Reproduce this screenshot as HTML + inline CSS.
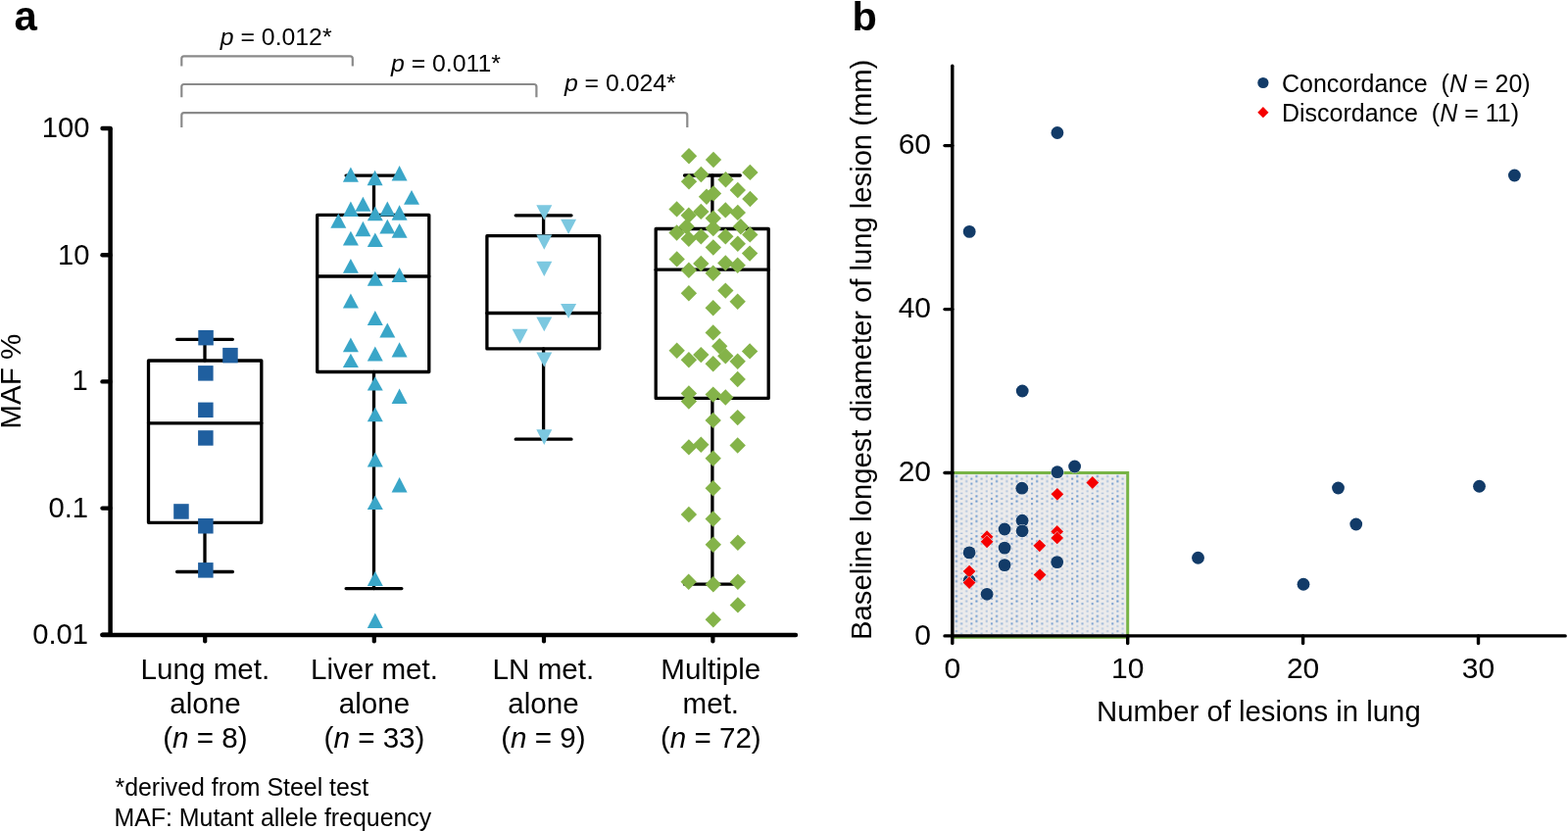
<!DOCTYPE html>
<html><head><meta charset="utf-8"><title>Figure</title>
<style>
html,body{margin:0;padding:0;background:#fff;}
body{width:1600px;height:848px;overflow:hidden;}
svg{display:block;}
</style></head>
<body>
<svg width="1600" height="848" viewBox="0 0 1600 848">
<rect width="1600" height="848" fill="#fff"/>
<path d="M185.3,67.5 L185.3,59.8 Q185.3,57.3 187.8,57.3 L357.3,57.3 Q359.8,57.3 359.8,59.8 L359.8,67.5" fill="none" stroke="#8a8a8a" stroke-width="2.2"/>
<path d="M185.3,99.2 L185.3,88.5 Q185.3,86.0 187.8,86.0 L544.9,86.0 Q547.4,86.0 547.4,88.5 L547.4,99.2" fill="none" stroke="#8a8a8a" stroke-width="2.2"/>
<path d="M185.3,130.0 L185.3,117.7 Q185.3,115.2 187.8,115.2 L698.8,115.2 Q701.3,115.2 701.3,117.7 L701.3,130.0" fill="none" stroke="#8a8a8a" stroke-width="2.2"/>
<text x="224.8" y="46.3" font-size="24.8" font-family="'Liberation Sans', Arial, Helvetica, sans-serif"><tspan font-style="italic">p</tspan> = 0.012*</text>
<text x="399.0" y="72.6" font-size="24.8" font-family="'Liberation Sans', Arial, Helvetica, sans-serif"><tspan font-style="italic">p</tspan> = 0.011*</text>
<text x="575.9" y="92.8" font-size="24.8" font-family="'Liberation Sans', Arial, Helvetica, sans-serif"><tspan font-style="italic">p</tspan> = 0.024*</text>
<path d="M112.6,130.8 L112.6,648.0" stroke="#000" stroke-width="4.5" fill="none"/>
<path d="M104.5,648.0 L812,648.0" stroke="#000" stroke-width="4.4" stroke-linecap="round" fill="none"/>
<path d="M104.5,131.0 L112.6,131.0" stroke="#000" stroke-width="4.4" stroke-linecap="round"/>
<path d="M104.5,260.2 L112.6,260.2" stroke="#000" stroke-width="4.4" stroke-linecap="round"/>
<path d="M104.5,389.4 L112.6,389.4" stroke="#000" stroke-width="4.4" stroke-linecap="round"/>
<path d="M104.5,518.6 L112.6,518.6" stroke="#000" stroke-width="4.4" stroke-linecap="round"/>
<path d="M104.5,647.8 L112.6,647.8" stroke="#000" stroke-width="4.4" stroke-linecap="round"/>
<path d="M209.2,648.0 L209.2,654.5" stroke="#000" stroke-width="4.2" stroke-linecap="round"/>
<path d="M381.8,648.0 L381.8,654.5" stroke="#000" stroke-width="4.2" stroke-linecap="round"/>
<path d="M555.0,648.0 L555.0,654.5" stroke="#000" stroke-width="4.2" stroke-linecap="round"/>
<path d="M727.4,648.0 L727.4,654.5" stroke="#000" stroke-width="4.2" stroke-linecap="round"/>
<text x="91.5" y="140.3" font-size="29.2" text-anchor="end" font-family="'Liberation Sans', Arial, Helvetica, sans-serif">100</text>
<text x="91.5" y="269.5" font-size="29.2" text-anchor="end" font-family="'Liberation Sans', Arial, Helvetica, sans-serif">10</text>
<text x="89.8" y="398.2" font-size="29.2" text-anchor="end" font-family="'Liberation Sans', Arial, Helvetica, sans-serif">1</text>
<text x="90.0" y="527.9" font-size="29.2" text-anchor="end" font-family="'Liberation Sans', Arial, Helvetica, sans-serif">0.1</text>
<text x="90.0" y="657.1" font-size="29.2" text-anchor="end" font-family="'Liberation Sans', Arial, Helvetica, sans-serif">0.01</text>
<text transform="translate(21.2,389.2) rotate(-90)" font-size="29.6" text-anchor="middle" font-family="'Liberation Sans', Arial, Helvetica, sans-serif">MAF %</text>
<text x="209.4" y="693.3" font-size="29.6" text-anchor="middle" font-family="'Liberation Sans', Arial, Helvetica, sans-serif">Lung met.</text>
<text x="209.4" y="727.5" font-size="29.6" text-anchor="middle" font-family="'Liberation Sans', Arial, Helvetica, sans-serif">alone</text>
<text x="209.4" y="762.6" font-size="29.6" text-anchor="middle" font-family="'Liberation Sans', Arial, Helvetica, sans-serif">(<tspan font-style="italic">n</tspan> = 8)</text>
<text x="382.0" y="693.3" font-size="29.6" text-anchor="middle" font-family="'Liberation Sans', Arial, Helvetica, sans-serif">Liver met.</text>
<text x="382.0" y="727.5" font-size="29.6" text-anchor="middle" font-family="'Liberation Sans', Arial, Helvetica, sans-serif">alone</text>
<text x="382.0" y="762.6" font-size="29.6" text-anchor="middle" font-family="'Liberation Sans', Arial, Helvetica, sans-serif">(<tspan font-style="italic">n</tspan> = 33)</text>
<text x="554.4" y="693.3" font-size="29.6" text-anchor="middle" font-family="'Liberation Sans', Arial, Helvetica, sans-serif">LN met.</text>
<text x="554.4" y="727.5" font-size="29.6" text-anchor="middle" font-family="'Liberation Sans', Arial, Helvetica, sans-serif">alone</text>
<text x="554.4" y="762.6" font-size="29.6" text-anchor="middle" font-family="'Liberation Sans', Arial, Helvetica, sans-serif">(<tspan font-style="italic">n</tspan> = 9)</text>
<text x="725.3" y="693.3" font-size="29.6" text-anchor="middle" font-family="'Liberation Sans', Arial, Helvetica, sans-serif">Multiple</text>
<text x="725.3" y="727.5" font-size="29.6" text-anchor="middle" font-family="'Liberation Sans', Arial, Helvetica, sans-serif">met.</text>
<text x="725.3" y="762.6" font-size="29.6" text-anchor="middle" font-family="'Liberation Sans', Arial, Helvetica, sans-serif">(<tspan font-style="italic">n</tspan> = 72)</text>
<text x="117.5" y="812" font-size="24.9" font-family="'Liberation Sans', Arial, Helvetica, sans-serif">*derived from Steel test</text>
<text x="116.5" y="842.7" font-size="24.9" font-family="'Liberation Sans', Arial, Helvetica, sans-serif">MAF: Mutant allele frequency</text>
<path d="M209.0,346.3 L209.0,368.0 M209.0,533.3 L209.0,583.5" stroke="#000" stroke-width="3.3" fill="none" stroke-linecap="round"/>
<path d="M180.6,346.3 L237.4,346.3 M180.6,583.5 L237.4,583.5" stroke="#000" stroke-width="3.3" fill="none" stroke-linecap="round"/>
<rect x="151.5" y="368.0" width="115.30000000000001" height="165.29999999999995" stroke="#000" stroke-width="3.3" fill="none" stroke-linecap="round" stroke-linejoin="round"/>
<path d="M151.5,431.8 L266.8,431.8" stroke="#000" stroke-width="3.3" fill="none" stroke-linecap="round"/>
<rect x="202.3" y="336.9" width="15.5" height="15.5" fill="#1f5f9f"/>
<rect x="227.2" y="354.9" width="15.5" height="15.5" fill="#1f5f9f"/>
<rect x="202.1" y="373.1" width="15.5" height="15.5" fill="#1f5f9f"/>
<rect x="202.1" y="410.6" width="15.5" height="15.5" fill="#1f5f9f"/>
<rect x="202.1" y="439.2" width="15.5" height="15.5" fill="#1f5f9f"/>
<rect x="177.2" y="514.2" width="15.5" height="15.5" fill="#1f5f9f"/>
<rect x="202.1" y="529.0" width="15.5" height="15.5" fill="#1f5f9f"/>
<rect x="202.1" y="574.1" width="15.5" height="15.5" fill="#1f5f9f"/>
<path d="M381.5,179.1 L381.5,219.4 M381.5,379.5 L381.5,600.6" stroke="#000" stroke-width="3.3" fill="none" stroke-linecap="round"/>
<path d="M353.1,179.1 L409.9,179.1 M353.1,600.6 L409.9,600.6" stroke="#000" stroke-width="3.3" fill="none" stroke-linecap="round"/>
<rect x="323.7" y="219.4" width="114.10000000000002" height="160.1" stroke="#000" stroke-width="3.3" fill="none" stroke-linecap="round" stroke-linejoin="round"/>
<path d="M323.7,282.0 L437.8,282.0" stroke="#000" stroke-width="3.3" fill="none" stroke-linecap="round"/>
<path d="M357.9,170.6 L365.9,185.8 L349.9,185.8Z" fill="#3aa6c8"/>
<path d="M382.6,173.8 L390.6,189.2 L374.6,189.2Z" fill="#3aa6c8"/>
<path d="M407.6,169.0 L415.6,184.4 L399.6,184.4Z" fill="#3aa6c8"/>
<path d="M420.0,194.0 L428.0,208.8 L412.0,208.8Z" fill="#3aa6c8"/>
<path d="M370.4,200.8 L378.4,215.7 L362.4,215.7Z" fill="#3aa6c8"/>
<path d="M357.9,205.6 L365.9,221.0 L349.9,221.0Z" fill="#3aa6c8"/>
<path d="M395.3,205.6 L403.3,220.5 L387.3,220.5Z" fill="#3aa6c8"/>
<path d="M407.6,209.3 L415.6,224.7 L399.6,224.7Z" fill="#3aa6c8"/>
<path d="M382.8,210.4 L390.8,225.3 L374.8,225.3Z" fill="#3aa6c8"/>
<path d="M345.3,217.8 L353.3,232.7 L337.3,232.7Z" fill="#3aa6c8"/>
<path d="M370.4,225.8 L378.4,241.2 L362.4,241.2Z" fill="#3aa6c8"/>
<path d="M395.3,223.7 L403.3,238.5 L387.3,238.5Z" fill="#3aa6c8"/>
<path d="M407.6,227.9 L415.6,242.8 L399.6,242.8Z" fill="#3aa6c8"/>
<path d="M357.9,235.8 L365.9,250.4 L349.9,250.4Z" fill="#3aa6c8"/>
<path d="M382.8,237.4 L390.8,252.1 L374.8,252.1Z" fill="#3aa6c8"/>
<path d="M357.9,264.0 L365.9,278.8 L349.9,278.8Z" fill="#3aa6c8"/>
<path d="M382.8,276.7 L390.8,291.8 L374.8,291.8Z" fill="#3aa6c8"/>
<path d="M407.6,273.0 L415.6,288.1 L399.6,288.1Z" fill="#3aa6c8"/>
<path d="M357.9,299.5 L365.9,314.4 L349.9,314.4Z" fill="#3aa6c8"/>
<path d="M382.8,316.9 L390.8,332.1 L374.8,332.1Z" fill="#3aa6c8"/>
<path d="M395.3,329.6 L403.3,344.5 L387.3,344.5Z" fill="#3aa6c8"/>
<path d="M357.9,344.5 L365.9,359.3 L349.9,359.3Z" fill="#3aa6c8"/>
<path d="M357.9,360.7 L365.9,374.9 L349.9,374.9Z" fill="#3aa6c8"/>
<path d="M382.8,353.5 L390.8,368.4 L374.8,368.4Z" fill="#3aa6c8"/>
<path d="M407.6,349.3 L415.6,364.6 L399.6,364.6Z" fill="#3aa6c8"/>
<path d="M382.8,384.3 L390.8,398.6 L374.8,398.6Z" fill="#3aa6c8"/>
<path d="M407.6,396.4 L415.6,412.1 L399.6,412.1Z" fill="#3aa6c8"/>
<path d="M382.8,415.5 L390.8,430.3 L374.8,430.3Z" fill="#3aa6c8"/>
<path d="M382.8,461.6 L390.8,476.5 L374.8,476.5Z" fill="#3aa6c8"/>
<path d="M407.6,487.0 L415.6,502.4 L399.6,502.4Z" fill="#3aa6c8"/>
<path d="M382.8,505.5 L390.8,519.9 L374.8,519.9Z" fill="#3aa6c8"/>
<path d="M382.8,583.1 L390.8,598.0 L374.8,598.0Z" fill="#3aa6c8"/>
<path d="M382.8,625.6 L390.8,640.9 L374.8,640.9Z" fill="#3aa6c8"/>
<path d="M554.6,219.8 L554.6,240.7 M554.6,355.9 L554.6,448.2" stroke="#000" stroke-width="3.3" fill="none" stroke-linecap="round"/>
<path d="M526.2,219.8 L583.0,219.8 M526.2,448.2 L583.0,448.2" stroke="#000" stroke-width="3.3" fill="none" stroke-linecap="round"/>
<rect x="496.9" y="240.7" width="114.80000000000007" height="115.19999999999999" stroke="#000" stroke-width="3.3" fill="none" stroke-linecap="round" stroke-linejoin="round"/>
<path d="M496.9,319.5 L611.7,319.5" stroke="#000" stroke-width="3.3" fill="none" stroke-linecap="round"/>
<path d="M547.3,209.2 L563.3,209.2 L555.3,224.4Z" fill="#7cc8e0"/>
<path d="M572.1,223.8 L588.1,223.8 L580.1,239.0Z" fill="#7cc8e0"/>
<path d="M547.3,239.6 L563.3,239.6 L555.3,254.8Z" fill="#7cc8e0"/>
<path d="M547.3,266.7 L563.3,266.7 L555.3,281.9Z" fill="#7cc8e0"/>
<path d="M572.1,309.9 L588.1,309.9 L580.1,325.1Z" fill="#7cc8e0"/>
<path d="M547.3,323.5 L563.3,323.5 L555.3,338.3Z" fill="#7cc8e0"/>
<path d="M522.6,335.7 L538.6,335.7 L530.6,350.8Z" fill="#7cc8e0"/>
<path d="M547.3,359.4 L563.3,359.4 L555.3,374.6Z" fill="#7cc8e0"/>
<path d="M547.3,438.3 L563.3,438.3 L555.3,454.1Z" fill="#7cc8e0"/>
<path d="M726.9,179.0 L726.9,233.5 M726.9,406.4 L726.9,596.2" stroke="#000" stroke-width="3.3" fill="none" stroke-linecap="round"/>
<path d="M698.5,179.0 L755.3,179.0 M698.5,596.2 L755.3,596.2" stroke="#000" stroke-width="3.3" fill="none" stroke-linecap="round"/>
<rect x="669.2" y="233.5" width="115.0" height="172.89999999999998" stroke="#000" stroke-width="3.3" fill="none" stroke-linecap="round" stroke-linejoin="round"/>
<path d="M669.2,275.2 L784.2,275.2" stroke="#000" stroke-width="3.3" fill="none" stroke-linecap="round"/>
<path d="M703.0,151.0 L711.2,159.2 L703.0,167.4 L694.8,159.2Z" fill="#84b349"/>
<path d="M728.0,154.8 L736.2,163.0 L728.0,171.2 L719.8,163.0Z" fill="#84b349"/>
<path d="M765.4,167.7 L773.6,175.9 L765.4,184.1 L757.2,175.9Z" fill="#84b349"/>
<path d="M715.4,169.8 L723.6,178.0 L715.4,186.2 L707.2,178.0Z" fill="#84b349"/>
<path d="M703.0,177.1 L711.2,185.3 L703.0,193.5 L694.8,185.3Z" fill="#84b349"/>
<path d="M740.5,175.1 L748.7,183.3 L740.5,191.5 L732.3,183.3Z" fill="#84b349"/>
<path d="M752.8,185.8 L761.0,194.0 L752.8,202.2 L744.6,194.0Z" fill="#84b349"/>
<path d="M728.0,189.2 L736.2,197.4 L728.0,205.6 L719.8,197.4Z" fill="#84b349"/>
<path d="M721.0,192.5 L729.2,200.7 L721.0,208.9 L712.8,200.7Z" fill="#84b349"/>
<path d="M765.4,194.8 L773.6,203.0 L765.4,211.2 L757.2,203.0Z" fill="#84b349"/>
<path d="M690.6,205.2 L698.8,213.4 L690.6,221.6 L682.4,213.4Z" fill="#84b349"/>
<path d="M715.3,207.7 L723.5,215.9 L715.3,224.1 L707.1,215.9Z" fill="#84b349"/>
<path d="M702.8,211.5 L711.0,219.7 L702.8,227.9 L694.6,219.7Z" fill="#84b349"/>
<path d="M740.3,206.2 L748.5,214.4 L740.3,222.6 L732.1,214.4Z" fill="#84b349"/>
<path d="M752.8,208.7 L761.0,216.9 L752.8,225.1 L744.6,216.9Z" fill="#84b349"/>
<path d="M727.8,214.6 L736.0,222.8 L727.8,231.0 L719.6,222.8Z" fill="#84b349"/>
<path d="M700.6,223.1 L708.8,231.3 L700.6,239.5 L692.4,231.3Z" fill="#84b349"/>
<path d="M690.6,229.3 L698.8,237.5 L690.6,245.7 L682.4,237.5Z" fill="#84b349"/>
<path d="M702.8,235.6 L711.0,243.8 L702.8,251.9 L694.6,243.8Z" fill="#84b349"/>
<path d="M727.8,224.8 L736.0,233.0 L727.8,241.2 L719.6,233.0Z" fill="#84b349"/>
<path d="M715.3,233.1 L723.5,241.3 L715.3,249.5 L707.1,241.3Z" fill="#84b349"/>
<path d="M740.3,233.1 L748.5,241.3 L740.3,249.5 L732.1,241.3Z" fill="#84b349"/>
<path d="M755.9,223.1 L764.1,231.3 L755.9,239.5 L747.7,231.3Z" fill="#84b349"/>
<path d="M765.3,231.2 L773.5,239.4 L765.3,247.6 L757.1,239.4Z" fill="#84b349"/>
<path d="M752.8,240.6 L761.0,248.8 L752.8,256.9 L744.6,248.8Z" fill="#84b349"/>
<path d="M727.8,244.3 L736.0,252.5 L727.8,260.7 L719.6,252.5Z" fill="#84b349"/>
<path d="M765.1,250.4 L773.3,258.6 L765.1,266.8 L756.9,258.6Z" fill="#84b349"/>
<path d="M690.7,256.2 L698.9,264.4 L690.7,272.6 L682.5,264.4Z" fill="#84b349"/>
<path d="M715.3,260.7 L723.5,268.9 L715.3,277.1 L707.1,268.9Z" fill="#84b349"/>
<path d="M740.3,260.2 L748.5,268.4 L740.3,276.6 L732.1,268.4Z" fill="#84b349"/>
<path d="M752.7,262.5 L760.9,270.7 L752.7,278.9 L744.5,270.7Z" fill="#84b349"/>
<path d="M702.9,267.6 L711.1,275.8 L702.9,284.0 L694.7,275.8Z" fill="#84b349"/>
<path d="M727.7,270.5 L735.9,278.7 L727.7,286.9 L719.5,278.7Z" fill="#84b349"/>
<path d="M702.9,291.0 L711.1,299.2 L702.9,307.4 L694.7,299.2Z" fill="#84b349"/>
<path d="M740.3,288.4 L748.5,296.6 L740.3,304.8 L732.1,296.6Z" fill="#84b349"/>
<path d="M752.7,299.5 L760.9,307.7 L752.7,315.9 L744.5,307.7Z" fill="#84b349"/>
<path d="M727.7,306.1 L735.9,314.3 L727.7,322.5 L719.5,314.3Z" fill="#84b349"/>
<path d="M727.7,331.2 L735.9,339.4 L727.7,347.6 L719.5,339.4Z" fill="#84b349"/>
<path d="M734.2,345.0 L742.4,353.2 L734.2,361.4 L726.0,353.2Z" fill="#84b349"/>
<path d="M690.7,349.5 L698.9,357.7 L690.7,365.9 L682.5,357.7Z" fill="#84b349"/>
<path d="M715.3,353.9 L723.5,362.1 L715.3,370.3 L707.1,362.1Z" fill="#84b349"/>
<path d="M702.9,359.0 L711.1,367.2 L702.9,375.4 L694.7,367.2Z" fill="#84b349"/>
<path d="M740.3,355.0 L748.5,363.2 L740.3,371.4 L732.1,363.2Z" fill="#84b349"/>
<path d="M765.1,350.2 L773.3,358.4 L765.1,366.6 L756.9,358.4Z" fill="#84b349"/>
<path d="M752.7,360.5 L760.9,368.7 L752.7,376.9 L744.5,368.7Z" fill="#84b349"/>
<path d="M727.7,363.1 L735.9,371.3 L727.7,379.5 L719.5,371.3Z" fill="#84b349"/>
<path d="M752.7,378.8 L760.9,387.0 L752.7,395.2 L744.5,387.0Z" fill="#84b349"/>
<path d="M702.9,393.3 L711.1,401.5 L702.9,409.7 L694.7,401.5Z" fill="#84b349"/>
<path d="M702.9,401.3 L711.1,409.5 L702.9,417.7 L694.7,409.5Z" fill="#84b349"/>
<path d="M727.7,394.4 L735.9,402.6 L727.7,410.8 L719.5,402.6Z" fill="#84b349"/>
<path d="M740.3,397.3 L748.5,405.5 L740.3,413.7 L732.1,405.5Z" fill="#84b349"/>
<path d="M727.7,420.7 L735.9,428.9 L727.7,437.1 L719.5,428.9Z" fill="#84b349"/>
<path d="M752.7,417.9 L760.9,426.1 L752.7,434.3 L744.5,426.1Z" fill="#84b349"/>
<path d="M702.9,448.2 L711.1,456.4 L702.9,464.6 L694.7,456.4Z" fill="#84b349"/>
<path d="M715.3,445.6 L723.5,453.8 L715.3,462.0 L707.1,453.8Z" fill="#84b349"/>
<path d="M752.7,446.3 L760.9,454.5 L752.7,462.7 L744.5,454.5Z" fill="#84b349"/>
<path d="M727.7,459.5 L735.9,467.7 L727.7,475.9 L719.5,467.7Z" fill="#84b349"/>
<path d="M727.7,490.1 L735.9,498.3 L727.7,506.5 L719.5,498.3Z" fill="#84b349"/>
<path d="M702.9,516.8 L711.1,525.0 L702.9,533.2 L694.7,525.0Z" fill="#84b349"/>
<path d="M727.7,521.3 L735.9,529.5 L727.7,537.7 L719.5,529.5Z" fill="#84b349"/>
<path d="M727.8,547.6 L736.0,555.8 L727.8,564.0 L719.6,555.8Z" fill="#84b349"/>
<path d="M752.9,545.5 L761.1,553.7 L752.9,561.9 L744.7,553.7Z" fill="#84b349"/>
<path d="M702.7,585.5 L710.9,593.7 L702.7,601.9 L694.5,593.7Z" fill="#84b349"/>
<path d="M727.8,588.0 L736.0,596.2 L727.8,604.4 L719.6,596.2Z" fill="#84b349"/>
<path d="M752.9,585.5 L761.1,593.7 L752.9,601.9 L744.7,593.7Z" fill="#84b349"/>
<path d="M752.9,609.2 L761.1,617.4 L752.9,625.6 L744.7,617.4Z" fill="#84b349"/>
<path d="M727.8,624.1 L736.0,632.3 L727.8,640.5 L719.6,632.3Z" fill="#84b349"/>
<text x="14.5" y="31" font-size="42" font-weight="bold" font-family="'Liberation Sans', Arial, Helvetica, sans-serif">a</text>
<text x="869.5" y="30.8" font-size="41.5" font-weight="bold" font-family="'Liberation Sans', Arial, Helvetica, sans-serif">b</text>
<defs>
<pattern id="dots" patternUnits="userSpaceOnUse" width="20.56" height="20.4" x="973.7" y="483.8">
<rect width="20.56" height="20.4" fill="#ecebeb"/>
<g fill="#5488c8">
<rect x="1.2" y="1.2" width="2.1" height="2.1" opacity="0.85"/>
<rect x="1.2" y="6.3" width="2.1" height="2.1" opacity="0.85"/>
<rect x="1.2" y="11.4" width="2.1" height="2.1" opacity="0.35"/>
<rect x="1.2" y="16.5" width="2.1" height="2.1" opacity="0.55"/>
<rect x="6.34" y="3.75" width="2.1" height="2.1" opacity="0.5"/>
<rect x="6.34" y="8.85" width="2.1" height="2.1" opacity="0.6"/>
<rect x="6.34" y="13.95" width="2.1" height="2.1" opacity="0.35"/>
<rect x="6.34" y="19.05" width="2.1" height="2.1" opacity="0.5"/>
<rect x="11.48" y="1.2" width="2.1" height="2.1" opacity="0.45"/>
<rect x="11.48" y="6.3" width="2.1" height="2.1" opacity="0.45"/>
<rect x="11.48" y="11.4" width="2.1" height="2.1" opacity="0.25"/>
<rect x="11.48" y="16.5" width="2.1" height="2.1" opacity="0.35"/>
<rect x="16.62" y="3.75" width="2.1" height="2.1" opacity="0.75"/>
<rect x="16.62" y="8.85" width="2.1" height="2.1" opacity="0.75"/>
<rect x="16.62" y="13.95" width="2.1" height="2.1" opacity="0.45"/>
<rect x="16.62" y="19.05" width="2.1" height="2.1" opacity="0.6"/>
</g>
</pattern>
</defs>
<rect x="972.5" y="482.4" width="178.20000000000005" height="167.80000000000007" fill="url(#dots)"/>
<path d="M972.5,482.4 L1150.7,482.4 L1150.7,650.2 L972.5,650.2" fill="none" stroke="#78b446" stroke-width="3"/>
<path d="M971.8,67.3 L971.8,656.5" stroke="#000" stroke-width="3.4" stroke-linecap="round" fill="none"/>
<path d="M964,648.9 L1597.2,648.9" stroke="#000" stroke-width="3.4" stroke-linecap="round" fill="none"/>
<path d="M964,482.5 L971.8,482.5" stroke="#000" stroke-width="3.4" stroke-linecap="round"/>
<path d="M964,315.6 L971.8,315.6" stroke="#000" stroke-width="3.4" stroke-linecap="round"/>
<path d="M964,148.6 L971.8,148.6" stroke="#000" stroke-width="3.4" stroke-linecap="round"/>
<path d="M1150.7,648.9 L1150.7,656.5" stroke="#000" stroke-width="3.4" stroke-linecap="round"/>
<path d="M1329.6,648.9 L1329.6,656.5" stroke="#000" stroke-width="3.4" stroke-linecap="round"/>
<path d="M1508.5,648.9 L1508.5,656.5" stroke="#000" stroke-width="3.4" stroke-linecap="round"/>
<text x="950" y="658.3" font-size="30" text-anchor="end" font-family="'Liberation Sans', Arial, Helvetica, sans-serif">0</text>
<text x="950" y="491.3" font-size="30" text-anchor="end" font-family="'Liberation Sans', Arial, Helvetica, sans-serif">20</text>
<text x="950" y="324.4" font-size="30" text-anchor="end" font-family="'Liberation Sans', Arial, Helvetica, sans-serif">40</text>
<text x="950" y="157.4" font-size="30" text-anchor="end" font-family="'Liberation Sans', Arial, Helvetica, sans-serif">60</text>
<text x="971.8" y="691.6" font-size="30" text-anchor="middle" font-family="'Liberation Sans', Arial, Helvetica, sans-serif">0</text>
<text x="1150.7" y="691.6" font-size="30" text-anchor="middle" font-family="'Liberation Sans', Arial, Helvetica, sans-serif">10</text>
<text x="1329.6" y="691.6" font-size="30" text-anchor="middle" font-family="'Liberation Sans', Arial, Helvetica, sans-serif">20</text>
<text x="1508.5" y="691.6" font-size="30" text-anchor="middle" font-family="'Liberation Sans', Arial, Helvetica, sans-serif">30</text>
<text x="1284.4" y="735.6" font-size="29.3" text-anchor="middle" font-family="'Liberation Sans', Arial, Helvetica, sans-serif">Number of lesions in lung</text>
<text transform="translate(888.5,356.8) rotate(-90)" font-size="29.2" text-anchor="middle" font-family="'Liberation Sans', Arial, Helvetica, sans-serif">Baseline longest diameter of lung lesion (mm)</text>
<circle cx="1078.9" cy="135.5" r="6.4" fill="#123b68" stroke="#fff" stroke-width="0.9" stroke-opacity="0.8" paint-order="stroke"/>
<circle cx="989.2" cy="236.4" r="6.4" fill="#123b68" stroke="#fff" stroke-width="0.9" stroke-opacity="0.8" paint-order="stroke"/>
<circle cx="1043.2" cy="399" r="6.4" fill="#123b68" stroke="#fff" stroke-width="0.9" stroke-opacity="0.8" paint-order="stroke"/>
<circle cx="1545.4" cy="179" r="6.4" fill="#123b68" stroke="#fff" stroke-width="0.9" stroke-opacity="0.8" paint-order="stroke"/>
<circle cx="1078.9" cy="481.7" r="6.4" fill="#123b68" stroke="#fff" stroke-width="0.9" stroke-opacity="0.8" paint-order="stroke"/>
<circle cx="1096.6" cy="476" r="6.4" fill="#123b68" stroke="#fff" stroke-width="0.9" stroke-opacity="0.8" paint-order="stroke"/>
<circle cx="1042.8" cy="498.2" r="6.4" fill="#123b68" stroke="#fff" stroke-width="0.9" stroke-opacity="0.8" paint-order="stroke"/>
<circle cx="1043.1" cy="531.2" r="6.4" fill="#123b68" stroke="#fff" stroke-width="0.9" stroke-opacity="0.8" paint-order="stroke"/>
<circle cx="1043.1" cy="541.8" r="6.4" fill="#123b68" stroke="#fff" stroke-width="0.9" stroke-opacity="0.8" paint-order="stroke"/>
<circle cx="1025.1" cy="540" r="6.4" fill="#123b68" stroke="#fff" stroke-width="0.9" stroke-opacity="0.8" paint-order="stroke"/>
<circle cx="1025.1" cy="559.1" r="6.4" fill="#123b68" stroke="#fff" stroke-width="0.9" stroke-opacity="0.8" paint-order="stroke"/>
<circle cx="1025.1" cy="576.6" r="6.4" fill="#123b68" stroke="#fff" stroke-width="0.9" stroke-opacity="0.8" paint-order="stroke"/>
<circle cx="989.1" cy="563.9" r="6.4" fill="#123b68" stroke="#fff" stroke-width="0.9" stroke-opacity="0.8" paint-order="stroke"/>
<circle cx="989.1" cy="592.5" r="6.4" fill="#123b68" stroke="#fff" stroke-width="0.9" stroke-opacity="0.8" paint-order="stroke"/>
<circle cx="1007.1" cy="606.3" r="6.4" fill="#123b68" stroke="#fff" stroke-width="0.9" stroke-opacity="0.8" paint-order="stroke"/>
<circle cx="1078.7" cy="573.6" r="6.4" fill="#123b68" stroke="#fff" stroke-width="0.9" stroke-opacity="0.8" paint-order="stroke"/>
<circle cx="1222.5" cy="569.25" r="6.4" fill="#123b68" stroke="#fff" stroke-width="0.9" stroke-opacity="0.8" paint-order="stroke"/>
<circle cx="1330" cy="596.25" r="6.4" fill="#123b68" stroke="#fff" stroke-width="0.9" stroke-opacity="0.8" paint-order="stroke"/>
<circle cx="1365.5" cy="498" r="6.4" fill="#123b68" stroke="#fff" stroke-width="0.9" stroke-opacity="0.8" paint-order="stroke"/>
<circle cx="1383.75" cy="535" r="6.4" fill="#123b68" stroke="#fff" stroke-width="0.9" stroke-opacity="0.8" paint-order="stroke"/>
<circle cx="1509.5" cy="496.25" r="6.4" fill="#123b68" stroke="#fff" stroke-width="0.9" stroke-opacity="0.8" paint-order="stroke"/>
<path d="M1114.8,486.1 L1121.2,492.5 L1114.8,498.9 L1108.4,492.5Z" fill="#f50000" stroke="#e8fbff" stroke-width="1" paint-order="stroke"/>
<path d="M1078.9,497.9 L1085.3,504.3 L1078.9,510.7 L1072.5,504.3Z" fill="#f50000" stroke="#e8fbff" stroke-width="1" paint-order="stroke"/>
<path d="M1078.7,536.0 L1085.1,542.4 L1078.7,548.8 L1072.3,542.4Z" fill="#f50000" stroke="#e8fbff" stroke-width="1" paint-order="stroke"/>
<path d="M1078.7,542.5 L1085.1,548.9 L1078.7,555.3 L1072.3,548.9Z" fill="#f50000" stroke="#e8fbff" stroke-width="1" paint-order="stroke"/>
<path d="M1007.1,541.3 L1013.5,547.7 L1007.1,554.1 L1000.7,547.7Z" fill="#f50000" stroke="#e8fbff" stroke-width="1" paint-order="stroke"/>
<path d="M1007.1,546.4 L1013.5,552.8 L1007.1,559.2 L1000.7,552.8Z" fill="#f50000" stroke="#e8fbff" stroke-width="1" paint-order="stroke"/>
<path d="M1060.8,550.4 L1067.2,556.8 L1060.8,563.2 L1054.4,556.8Z" fill="#f50000" stroke="#e8fbff" stroke-width="1" paint-order="stroke"/>
<path d="M1061.1,580.2 L1067.5,586.6 L1061.1,593.0 L1054.7,586.6Z" fill="#f50000" stroke="#e8fbff" stroke-width="1" paint-order="stroke"/>
<path d="M989.1,576.7 L995.5,583.1 L989.1,589.5 L982.7,583.1Z" fill="#f50000" stroke="#e8fbff" stroke-width="1" paint-order="stroke"/>
<path d="M989.1,588.1 L995.5,594.5 L989.1,600.9 L982.7,594.5Z" fill="#f50000" stroke="#e8fbff" stroke-width="1" paint-order="stroke"/>
<circle cx="1288.9" cy="84.5" r="5.6" fill="#123b68"/>
<path d="M1288.9,109.1 L1294.5,114.7 L1288.9,120.3 L1283.3,114.7Z" fill="#f50000"/>
<text x="1308" y="94.1" font-size="25" font-family="'Liberation Sans', Arial, Helvetica, sans-serif" xml:space="preserve">Concordance  (<tspan font-style="italic">N</tspan> = 20)</text>
<text x="1308" y="124.1" font-size="25" font-family="'Liberation Sans', Arial, Helvetica, sans-serif" xml:space="preserve">Discordance  (<tspan font-style="italic">N</tspan> = 11)</text>
</svg>
</body></html>
